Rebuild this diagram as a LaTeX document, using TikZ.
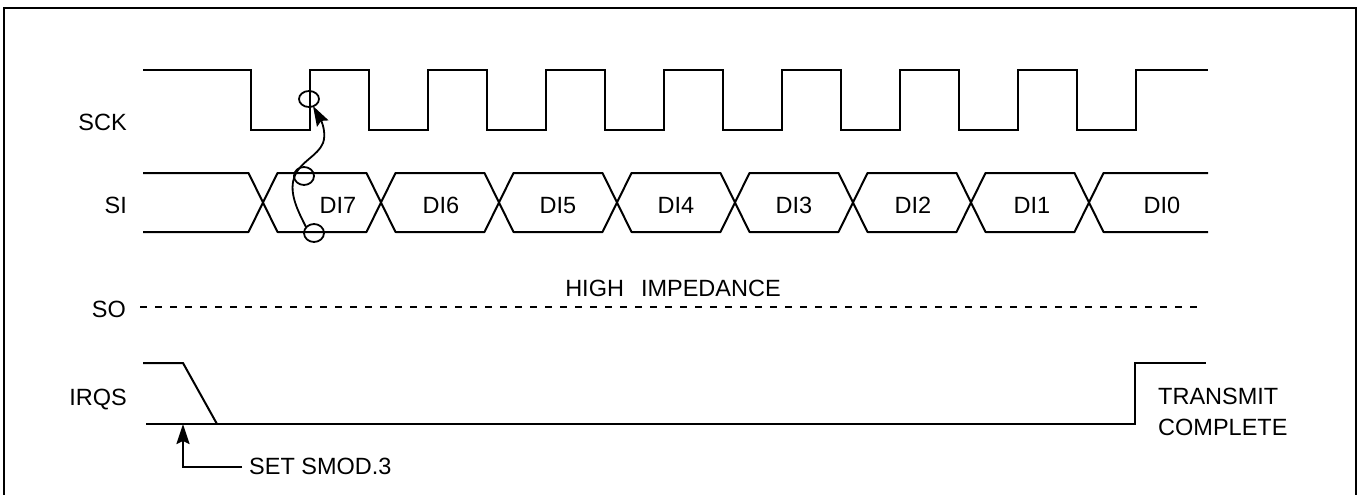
\documentclass[tikz,border=0pt]{standalone}
\usepackage{fontspec}
\setmainfont{Liberation Sans}
\usetikzlibrary{arrows.meta}
\begin{document}
\begin{tikzpicture}[x=1pt,y=-1pt,
  wave/.style={line width=2pt, line join=miter},
  lbl/.style={font=\fontsize{23.5}{30}\selectfont, inner sep=0pt, text depth=0pt},
  ringline/.style={line width=1.8pt},
  tiparrow/.style={-{Stealth[length=20pt,width=13pt,inset=3pt]}}]
\useasboundingbox (0,0) rectangle (1361,495);
\begin{scope}
\clip (0,0) rectangle (1361,495);
\draw[line width=2.7pt] (4,520) -- (4,8) -- (1356,8) -- (1356,520);
\end{scope}
% labels
\node[lbl, anchor=east] (lsck) at (127,122) {SCK};
\node[lbl, anchor=east] (lsi) at (127,205) {SI};
\node[lbl, anchor=east] (lso) at (126,309) {SO};
\node[lbl, anchor=east] (lirqs) at (127,397) {IRQS};
% SCK
\draw[wave] (143,70)
  \foreach \k in {0,...,7} { -- ({251+118*\k},70) -- ({251+118*\k},130) -- ({309.5+118*\k},130) -- ({309.5+118*\k},70) }
  -- (1208,70);
% SI
\draw[wave, line join=bevel] (143,173) -- (248.5,173) -- (263,202.5) -- (248.5,232) -- (143,232);
\foreach \k in {0,...,6} {
  \draw[wave, line join=bevel] ({263+118*\k},202.5) -- ({277.5+118*\k},173) -- ({366.5+118*\k},173)
     -- ({381+118*\k},202.5) -- ({366.5+118*\k},232) -- ({277.5+118*\k},232) -- cycle;
}
\draw[wave, line join=bevel] (1208,173) -- (1103.5,173) -- (1089,202.5) -- (1103.5,232) -- (1208,232);
\foreach \n/\x in {DI7/338, DI6/441, DI5/558, DI4/676, DI3/794, DI2/913, DI1/1032, DI0/1162} {
  \node[lbl] (d\n) at (\x,205) {\n};
}
% SO
\draw[line width=2pt, dash pattern=on 7pt off 8pt] (140,307) -- (1203,307);
\node[lbl] (hiz) at (673,288) {HIGH\hspace{17pt}IMPEDANCE};
% IRQS
\draw[wave] (143,363) -- (183,363) -- (217,424);
\draw[wave] (146,424) -- (1135,424) -- (1135,363) -- (1206,363);
\coordinate (setp) at (183,424);
\node[lbl, anchor=west] (smod) at (249,466) {SET SMOD.3};
\draw[line width=2pt, tiparrow] (smod.west) ++(-7,1) -- (183,467) -- (setp);
\node[lbl, anchor=west] (tc1) at (1158,396) {TRANSMIT};
\node[lbl, anchor=west] (tc2) at (1158,427) {COMPLETE};
% circles and causality arrow
\draw[ringline] (309,99) ellipse [x radius=10, y radius=8];
\draw[ringline] (304,176) ellipse [x radius=10, y radius=9];
\draw[ringline] (314,233) ellipse [x radius=10, y radius=9];
\draw[ringline, tiparrow] (306,227) .. controls (298,211) and (289,194) .. (294,178)
   .. controls (299,162) and (318,156) .. (323,143)
   .. controls (326,135) and (323,124) .. (313,106);
\end{tikzpicture}
\end{document}
